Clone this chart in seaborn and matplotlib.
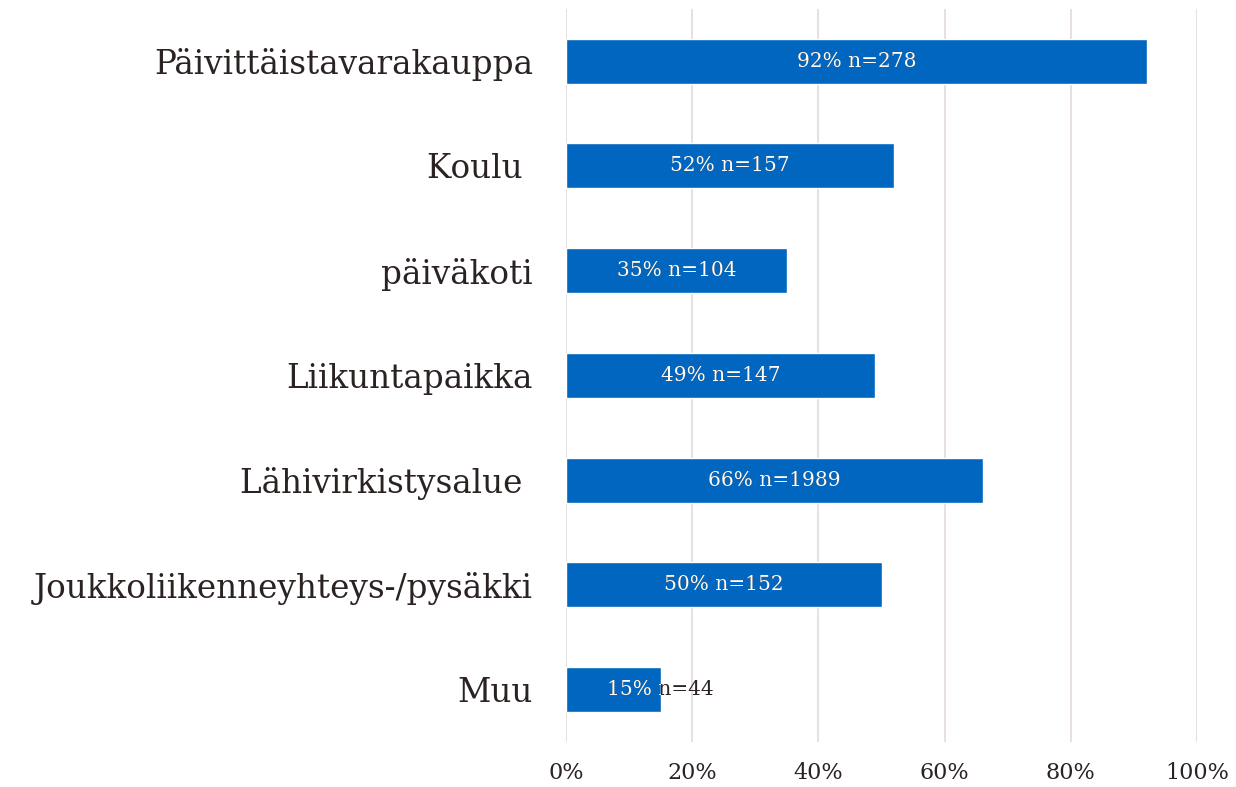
import matplotlib
matplotlib.use("Agg")
import matplotlib.pyplot as plt
import seaborn as sns
import pandas as pd

# data
categories = ["Päivittäistavarakauppa", "Koulu ", "päiväkoti", "Liikuntapaikka",
              "Lähivirkistysalue ", "Joukkoliikenneyhteys-/pysäkki", "Muu"]
percent = [92, 52, 35, 49, 66, 50, 15]
counts = [278, 157, 104, 147, 1989, 152, 44]
xticks = [0, 20, 40, 60, 80, 100]

BAR = "#0066c0"
TEXT = "#2b2222"
GRID = "#e6dcdd"

sns.set_theme(style="white")
plt.rcParams["font.family"] = ["DejaVu Serif"]

df = pd.DataFrame({"cat": categories, "pct": percent, "n": counts})

fig = plt.figure(figsize=(12.36, 7.87), dpi=100)
ax = fig.add_axes([0.458, 0.057, 0.5105, 0.932])

sns.barplot(data=df, x="pct", y="cat", color=BAR, width=0.43,
            saturation=1, ax=ax, zorder=3)

ax.set_xlim(0, 100)
ax.set_xticks(xticks)
ax.set_xticklabels([f"{t}%" for t in xticks])
for t in xticks:
    ax.axvline(t, color=GRID, lw=1.3, zorder=0)

ax.set_xlabel("")
ax.set_ylabel("")
for s in ax.spines.values():
    s.set_visible(False)
ax.tick_params(axis="x", length=0, pad=14, labelsize=16, labelcolor=TEXT)
ax.tick_params(axis="y", length=0, pad=24, labelsize=23.5, labelcolor=TEXT)

# value labels: dark text underneath, white copy clipped to the bar
for i, (bar, p, n) in enumerate(zip(ax.patches, percent, counts)):
    lab = f"{p}% n={n}"
    x = max(p / 2, 15)
    ax.text(x, i, lab, ha="center", va="center", fontsize=14.5,
            color=TEXT, zorder=4)
    t = ax.text(x, i, lab, ha="center", va="center", fontsize=14.5,
                color="white", zorder=5)
    t.set_clip_on(True)
    t.set_clip_path(bar)

fig.savefig("out.png", dpi=100)
